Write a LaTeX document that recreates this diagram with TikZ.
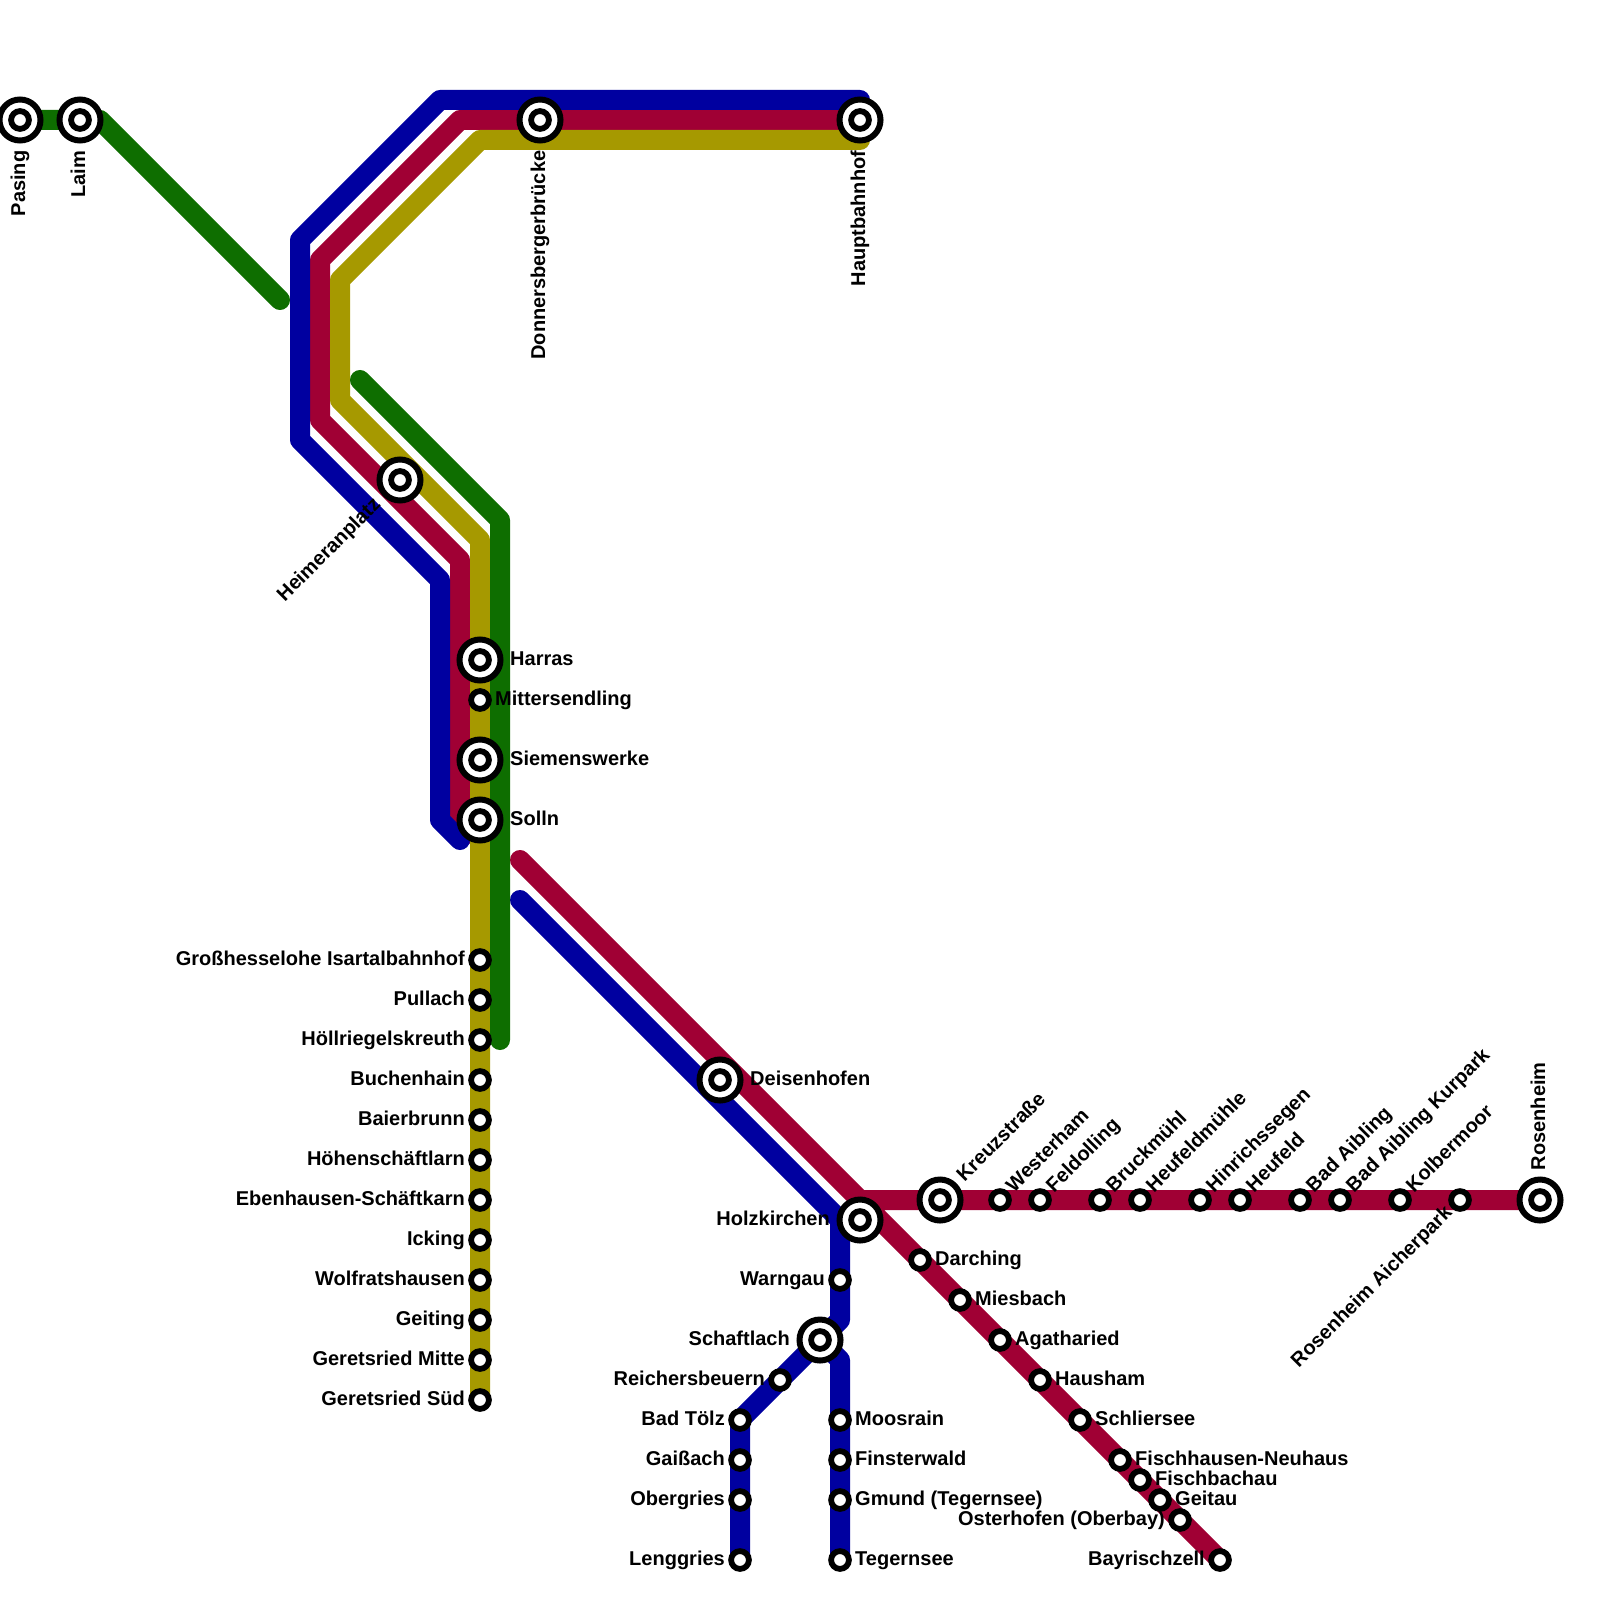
\documentclass[tikz,border=0pt]{standalone}
\usepackage{fontspec}
\setmainfont{Liberation Sans}
\definecolor{linegreen}{HTML}{0E6E00}
\definecolor{lineblue}{HTML}{0000A0}
\definecolor{linered}{HTML}{A00034}
\definecolor{lineolive}{HTML}{A69900}
\tikzset{
  metroline/.style={line width=2mm,line cap=round,line join=round},
  stop/.style={circle,draw=black,fill=white,line width=.58mm,minimum size=1.78mm,inner sep=0pt,outer sep=0pt},
  bigstop/.style={circle,draw=black,fill=white,line width=.6mm,minimum size=4.1mm,inner sep=0pt,outer sep=0pt},
  lbl/.style={inner sep=0pt,font=\fontsize{5.69}{6.8}\selectfont\bfseries},
  lblright/.style={lbl,anchor=base west,xshift=1.45mm,yshift=-.5mm},
  lblleft/.style={lbl,anchor=base east,xshift=-1.45mm,yshift=-.5mm},
  bigright/.style={lbl,anchor=base west,xshift=2.95mm,yshift=-.5mm},
  bigleft/.style={lbl,anchor=base east,xshift=-2.95mm,yshift=-.5mm},
  lblup/.style={lbl,anchor=base west,xshift=1.35mm,yshift=.65mm,rotate=45},
  bigup/.style={lbl,anchor=base west,xshift=2.42mm,yshift=1.72mm,rotate=45},
  lbldown/.style={lbl,anchor=base east,xshift=-.65mm,yshift=-1.35mm,rotate=45},
  bigdown/.style={lbl,anchor=base east,xshift=-1.8mm,yshift=-2.5mm,rotate=45},
  bigunder/.style={lbl,anchor=base east,xshift=.5mm,yshift=-3mm,rotate=90},
  bigover/.style={lbl,anchor=base west,xshift=.5mm,yshift=2.9mm,rotate=90}
}
\begin{document}
\begin{tikzpicture}[x=2mm,y=-2mm]
\useasboundingbox (0,0) rectangle (80,80);
% corners and line ends
\coordinate (pasingc) at (1,6);
\coordinate (greenA) at (5,6);
\coordinate (greenB) at (14,15);
\coordinate (greenC) at (18,19);
\coordinate (greenD) at (25,26);
\coordinate (greenE) at (25,52);
\coordinate (blueA) at (43,5);
\coordinate (blueB) at (22,5);
\coordinate (blueC) at (15,12);
\coordinate (blueD) at (15,22);
\coordinate (blueE) at (22,29);
\coordinate (blueF) at (22,41);
\coordinate (blueG) at (23,42);
\coordinate (blueH) at (26,45);
\coordinate (blueI) at (42,61);
\coordinate (blueJ) at (42,66);
\coordinate (schaftlachc) at (41,67);
\coordinate (blueK) at (42,68);
\coordinate (tegernseec) at (42,78);
\coordinate (toelzc) at (37,71);
\coordinate (lenggriesc) at (37,78);
\coordinate (hbfc) at (43,6);
\coordinate (redA) at (23,6);
\coordinate (redB) at (16,13);
\coordinate (redC) at (16,21);
\coordinate (redD) at (23,28);
\coordinate (redE) at (23,41);
\coordinate (redF) at (24,42);
\coordinate (redG) at (26,43);
\coordinate (redH) at (43,60);
\coordinate (rosenheimc) at (77,60);
\coordinate (bayrischzellc) at (61,78);
\coordinate (oliveA) at (43,7);
\coordinate (oliveB) at (24,7);
\coordinate (oliveC) at (17,14);
\coordinate (oliveD) at (17,20);
\coordinate (oliveE) at (24,27);
\coordinate (suedc) at (24,70);
% lines
\draw[metroline,linered] (hbfc) -- (redA) -- (redB) -- (redC) -- (redD) -- (redE) -- (redF);
\draw[metroline,linered] (redG) -- (redH) -- (rosenheimc) (redH) -- (bayrischzellc);
\draw[metroline,lineblue] (blueA) -- (blueB) -- (blueC) -- (blueD) -- (blueE) -- (blueF) -- (blueG);
\draw[metroline,lineblue] (blueH) -- (blueI) -- (blueJ) -- (schaftlachc) -- (blueK) -- (tegernseec);
\draw[metroline,lineblue] (schaftlachc) -- (toelzc) -- (lenggriesc);
\draw[metroline,lineolive] (oliveA) -- (oliveB) -- (oliveC) -- (oliveD) -- (oliveE) -- (suedc);
\draw[metroline,linegreen] (pasingc) -- (greenA) -- (greenB);
\draw[metroline,linegreen] (greenC) -- (greenD) -- (greenE);
% big stops
\foreach \id/\pos/\where/\name in {
  pasing/{1,6}/bigunder/Pasing,laim/{4,6}/bigunder/Laim,
  donnersberger/{27,6}/bigunder/Donnersbergerbrücke,hbf/{43,6}/bigunder/Hauptbahnhof,
  heimeran/{20,24}/bigdown/Heimeranplatz,harras/{24,33}/bigright/Harras,
  siemens/{24,38}/bigright/Siemenswerke,solln/{24,41}/bigright/Solln,
  deisenhofen/{36,54}/bigright/Deisenhofen,holzkirchen/{43,61}/bigleft/Holzkirchen,
  kreuzstr/{47,60}/bigup/Kreuzstraße,schaftlach/{41,67}/bigleft/Schaftlach,
  rosenheim/{77,60}/bigover/Rosenheim}
{
  \node[bigstop] (\id) at (\pos) {};
  \node[stop] (\id-in) at (\id) {};
  \node[\where] (\id-lbl) at (\id) {\name};
}
% small stops
\foreach \id/\pos/\where/\name in {
  mittersendling/{24,35}/lblright/Mittersendling,
  grossh/{24,48}/lblleft/Großhesselohe Isartalbahnhof,pullach/{24,50}/lblleft/Pullach,
  hoellr/{24,52}/lblleft/Höllriegelskreuth,buchenhain/{24,54}/lblleft/Buchenhain,
  baierbrunn/{24,56}/lblleft/Baierbrunn,hoehen/{24,58}/lblleft/Höhenschäftlarn,
  ebenhausen/{24,60}/lblleft/Ebenhausen-Schäftkarn,icking/{24,62}/lblleft/Icking,
  wolfrats/{24,64}/lblleft/Wolfratshausen,geiting/{24,66}/lblleft/Geiting,
  gerMitte/{24,68}/lblleft/Geretsried Mitte,gerSued/{24,70}/lblleft/Geretsried Süd,
  westerham/{50,60}/lblup/Westerham,feldolling/{52,60}/lblup/Feldolling,
  bruckmuehl/{55,60}/lblup/Bruckmühl,heufeldm/{57,60}/lblup/Heufeldmühle,
  hinrichs/{60,60}/lblup/Hinrichssegen,heufeld/{62,60}/lblup/Heufeld,
  aibling/{65,60}/lblup/Bad Aibling,kurpark/{67,60}/lblup/Bad Aibling Kurpark,
  kolbermoor/{70,60}/lblup/Kolbermoor,aicherpark/{73,60}/lbldown/Rosenheim Aicherpark,
  darching/{46,63}/lblright/Darching,miesbach/{48,65}/lblright/Miesbach,
  agatharied/{50,67}/lblright/Agatharied,hausham/{52,69}/lblright/Hausham,
  schliersee/{54,71}/lblright/Schliersee,fischhausen/{56,73}/lblright/Fischhausen-Neuhaus,
  fischbachau/{57,74}/lblright/Fischbachau,geitau/{58,75}/lblright/Geitau,
  osterhofen/{59,76}/lblleft/Osterhofen (Oberbay),bayrischzell/{61,78}/lblleft/Bayrischzell,
  warngau/{42,64}/lblleft/Warngau,reichers/{39,69}/lblleft/Reichersbeuern,
  toelz/{37,71}/lblleft/Bad Tölz,gaissach/{37,73}/lblleft/Gaißach,
  obergries/{37,75}/lblleft/Obergries,lenggries/{37,78}/lblleft/Lenggries,
  moosrain/{42,71}/lblright/Moosrain,finsterwald/{42,73}/lblright/Finsterwald,
  gmund/{42,75}/lblright/Gmund (Tegernsee),tegernsee/{42,78}/lblright/Tegernsee}
{
  \node[stop] (\id) at (\pos) {};
  \node[\where] (\id-lbl) at (\id) {\name};
}
\end{tikzpicture}
\end{document}
